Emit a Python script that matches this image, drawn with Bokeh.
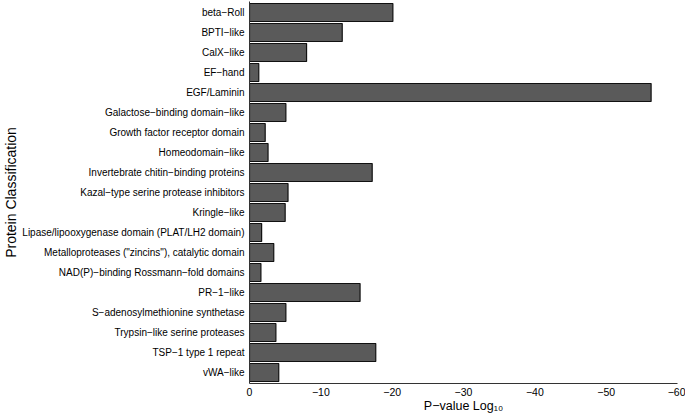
from bokeh.plotting import figure
from bokeh.models import FactorRange, Range1d, FixedTicker, ColumnDataSource
from bokeh.embed import file_html
from bokeh.resources import INLINE

categories = [
    "beta−Roll",
    "BPTI−like",
    "CalX−like",
    "EF−hand",
    "EGF/Laminin",
    "Galactose−binding domain−like",
    "Growth factor receptor domain",
    "Homeodomain−like",
    "Invertebrate chitin−binding proteins",
    "Kazal−type serine protease inhibitors",
    "Kringle−like",
    "Lipase/lipooxygenase domain (PLAT/LH2 domain)",
    "Metalloproteases (\"zincins\"), catalytic domain",
    "NAD(P)−binding Rossmann−fold domains",
    "PR−1−like",
    "S−adenosylmethionine synthetase",
    "Trypsin−like serine proteases",
    "TSP−1 type 1 repeat",
    "vWA−like",
]
log10_pvalues = [-20.1, -13.0, -8.0, -1.3, -56.3, -5.1, -2.2, -2.6, -17.2, -5.4,
                 -5.0, -1.7, -3.4, -1.6, -15.5, -5.1, -3.7, -17.7, -4.1]
x_ticks = [0, -10, -20, -30, -40, -50, -60]
x_tick_labels = ["0", "−10", "−20", "−30", "−40", "−50", "−60"]

FONT = "Liberation Sans"

source = ColumnDataSource(data=dict(cat=categories, val=log10_pvalues))

p = figure(
    width=685, height=415,
    y_range=FactorRange(*list(reversed(categories)), range_padding=0.05,
                        range_padding_units="absolute"),
    x_range=Range1d(0, -60),
    output_backend="svg", toolbar_location=None,
    min_border_left=249, min_border_right=8, min_border_top=1, min_border_bottom=0,
)

p.hbar(y="cat", left=0, right="val", height=0.9, source=source,
       fill_color="#5A5A5A", line_color="#111111", line_width=1.2)

p.outline_line_color = None
p.xgrid.grid_line_color = None
p.ygrid.grid_line_color = None
p.background_fill_color = "white"
p.border_fill_color = "white"

xa = p.xaxis[0]
xa.ticker = FixedTicker(ticks=x_ticks)
xa.major_label_overrides = {t: l for t, l in zip(x_ticks, x_tick_labels)}
xa.minor_tick_line_color = None
xa.major_tick_line_color = None
xa.major_tick_out = 0
xa.major_tick_in = 0
xa.major_label_standoff = 4
xa.major_label_text_font = FONT
xa.major_label_text_font_size = "10.5px"
xa.major_label_text_color = "black"
xa.axis_line_color = "#333333"
xa.axis_line_width = 1
xa.axis_label = "P−value Log₁₀"
xa.axis_label_text_font = FONT
xa.axis_label_text_font_style = "normal"
xa.axis_label_text_font_size = "12.5px"
xa.axis_label_text_color = "black"
xa.axis_label_standoff = 0

ya = p.yaxis[0]
ya.major_tick_line_color = None
ya.minor_tick_line_color = None
ya.major_tick_out = 0
ya.major_tick_in = 0
ya.major_label_standoff = 5
ya.major_label_text_font = FONT
ya.major_label_text_font_size = "10px"
ya.major_label_text_color = "black"
ya.axis_line_color = "#333333"
ya.axis_line_width = 1
ya.axis_label = "Protein Classification"
ya.axis_label_text_font = FONT
ya.axis_label_text_font_style = "normal"
ya.axis_label_text_font_size = "14px"
ya.axis_label_text_color = "black"
ya.axis_label_standoff = 0

open("out.html", "w").write(file_html(p, INLINE))
